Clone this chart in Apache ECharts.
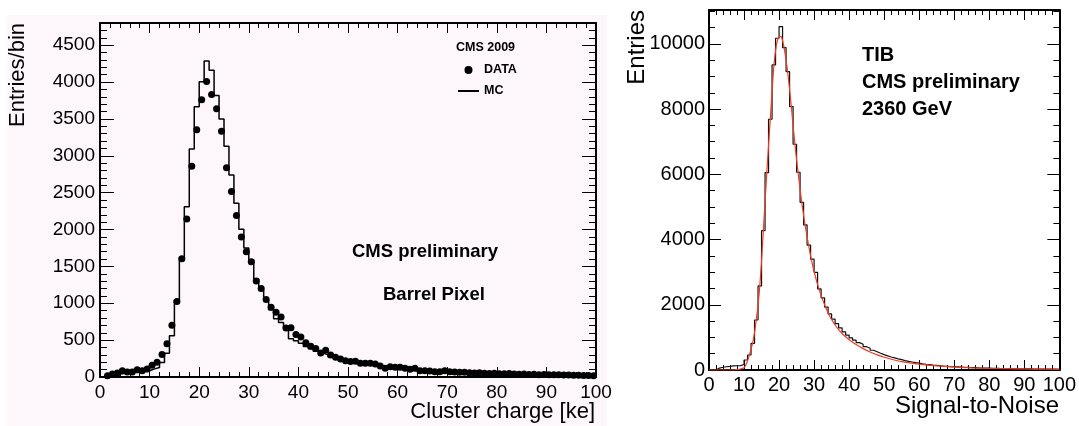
<!DOCTYPE html>
<html>
<head>
<meta charset="utf-8">
<script src="https://cdn.jsdelivr.net/npm/echarts@6.0.0/dist/echarts.min.js"></script>
<style>
  html, body { margin: 0; padding: 0; background: #fff; }
  #chart { width: 1079px; height: 426px; }
</style>
</head>
<body>
<div id="chart"></div>
<script>
  'use strict'

  // ---- left panel : pixel cluster charge, 1 ke bins from 0 to 100 ----
  var pixelData = [null, 18, 41, 54, 86, 68, 68, 99, 86, 109,
    160, 199, 305, 450, 703, 1023, 1605, 2143, 2856, 3354,
    3761, 4008, 3829, 3637, 3331, 2838, 2516, 2190, 1900, 1697,
    1563, 1301, 1200, 1052, 946, 878, 815, 663, 667, 577,
    541, 466, 418, 385, 324, 364, 297, 267, 245, 222,
    210, 213, 186, 186, 186, 176, 149, 118, 140, 131,
    131, 118, 104, 118, 86, 86, 81, 72, 72, 86,
    72, 68, 64, 66, 58, 55, 57, 50, 48, 52,
    45, 43, 46, 40, 38, 41, 35, 36, 32, 34,
    30, 29, 31, 26, 27, 24, 25, 21, 22, 18];

  var pixelMC = [5, 15, 30, 40, 50, 55, 60, 65, 72, 85,
    110, 130, 195, 323, 560, 1040, 1620, 2310, 3090, 3665,
    4005, 4285, 4160, 3818, 3500, 3130, 2738, 2355, 2005, 1750,
    1590, 1330, 1180, 1040, 912, 790, 740, 660, 520, 490,
    458, 415, 382, 350, 324, 300, 272, 250, 234, 214,
    200, 190, 176, 165, 158, 146, 135, 126, 119, 110,
    104, 97, 92, 86, 80, 76, 72, 68, 63, 60,
    57, 54, 51, 49, 46, 44, 42, 40, 38, 36,
    35, 33, 32, 30, 29, 28, 27, 26, 25, 24,
    23, 22, 21, 20, 19, 18, 18, 17, 16, 15];

  // ---- right panel : TIB signal-to-noise, unit bins from 0 to 100 ----
  var tibHist = [0, 0, 60, 85, 100, 110, 125, 130, 135, 170,
    307, 460, 818, 1534, 2577, 4274, 6053, 7689, 9356, 10174,
    10532, 9888, 9151, 8078, 6923, 6064, 5143, 4448, 3830, 3400,
    2995, 2485, 2209, 1930, 1720, 1560, 1420, 1290, 1170, 1070,
    985, 915, 840, 790, 715, 668, 605, 560, 512, 470,
    432, 398, 372, 343, 318, 288, 262, 246, 226, 210,
    192, 176, 163, 150, 141, 130, 121, 114, 106, 100,
    94, 88, 82, 79, 73, 70, 65, 62, 58, 55,
    52, 50, 47, 45, 43, 41, 39, 37, 36, 35,
    33, 32, 31, 30, 29, 27, 26, 25, 24, 22];

  var fitX = [0, 6, 8, 9, 10,
    10.5, 11, 11.5, 12, 12.5, 13, 13.5, 14, 14.5, 15,
    15.5, 16, 16.5, 17, 17.5, 18, 18.5, 19, 19.5, 20,
    20.5, 21, 21.5, 22, 22.5, 23, 23.5, 24, 24.5, 25,
    25.5, 26, 26.5, 27, 27.5, 28, 28.5, 29, 29.5, 30,
    31, 32, 33, 34, 35, 36, 37, 38, 39, 40,
    42, 44, 46, 48, 50,
    55, 60, 65, 70, 75, 80, 85, 90, 95, 100];
  var fitY = [0, 0, 10, 30, 70,
    150, 280, 450, 650, 850, 1150, 1550, 2000, 2580, 3350,
    4250, 5150, 6050, 6900, 7700, 8550, 9300, 9800, 10100, 10220,
    10230, 10100, 9850, 9500, 9100, 8600, 8080, 7500, 6950, 6450,
    6000, 5550, 5120, 4750, 4400, 4080, 3780, 3500, 3250, 3020,
    2620, 2290, 2000, 1750, 1550, 1380, 1240, 1120, 1020, 930,
    780, 655, 550, 465, 390,
    255, 178, 124, 90, 68, 52, 41, 32, 25, 20];

  var FONT = '"Liberation Sans", Arial, Helvetica, sans-serif';

  // histogram as a step line drawn from the bin edges
  function stepData(vals) {
    var d = vals.map(function (v, i) { return [i, v]; });
    d.push([vals.length, vals[vals.length - 1]]);
    return d;
  }
  function binCenters(vals) {
    var d = [];
    vals.forEach(function (v, i) { if (v !== null) d.push([i + 0.5, v]); });
    return d;
  }
  function plain(v) { return String(v); }

  function xAx(gi, pos, labels, fs, margin) {
    return {
      type: 'value', gridIndex: gi, position: pos,
      min: 0, max: 100, interval: 10,
      axisLine: { show: true, onZero: false, lineStyle: { color: '#000', width: 2 } },
      axisTick: { show: true, inside: true, length: 10, lineStyle: { color: '#000', width: 1 } },
      minorTick: { show: true, splitNumber: 5, length: 5, lineStyle: { color: '#000', width: 1 } },
      axisLabel: { show: labels, color: '#000', fontSize: fs, fontFamily: FONT, margin: margin, formatter: plain },
      splitLine: { show: false }, minorSplitLine: { show: false }
    };
  }
  function yAx(gi, pos, labels, max, interval, minorSplit, tickLen, fs, margin) {
    return {
      type: 'value', gridIndex: gi, position: pos,
      min: 0, max: max, interval: interval,
      axisLine: { show: true, onZero: false, lineStyle: { color: '#000', width: 2 } },
      axisTick: { show: true, inside: true, length: tickLen, lineStyle: { color: '#000', width: 1 } },
      minorTick: { show: true, splitNumber: minorSplit, length: tickLen / 2, lineStyle: { color: '#000', width: 1 } },
      axisLabel: { show: labels, showMaxLabel: false, color: '#000', fontSize: fs, fontFamily: FONT, margin: margin, formatter: plain },
      splitLine: { show: false }, minorSplitLine: { show: false }
    };
  }

  var chart = echarts.init(document.getElementById('chart'));

  var option = {
    animation: false,
    grid: [
      { left: 100, top: 23, width: 496, height: 354 },
      { left: 709, top: 10, width: 351, height: 360 }
    ],
    xAxis: [
      xAx(0, 'bottom', true, 19, 6),
      xAx(0, 'top', false, 19, 6),
      xAx(1, 'bottom', true, 20, 5),
      xAx(1, 'top', false, 20, 5)
    ],
    yAxis: [
      yAx(0, 'left', true, 4800, 500, 5, 14, 19, 5),
      yAx(0, 'right', false, 4800, 500, 5, 14, 19, 5),
      yAx(1, 'left', true, 11040, 2000, 4, 12, 20, 4),
      yAx(1, 'right', false, 11040, 2000, 4, 12, 20, 4)
    ],
    legend: {
      orient: 'vertical', left: 457, top: 63, padding: 0,
      itemWidth: 21, itemHeight: 8, itemGap: 7,
      selectedMode: false,
      data: [
        { name: 'DATA', icon: 'circle', itemStyle: { color: '#000', opacity: 1 } },
        { name: 'MC', itemStyle: { opacity: 0 } }
      ],
      textStyle: { color: '#000', fontFamily: FONT, fontWeight: 'bold', fontSize: 12.5, lineHeight: 14 }
    },
    graphic: [
      { type: 'rect', z: -10, silent: true, shape: { x: 7, y: 15, width: 600, height: 411 }, style: { fill: '#fdf6fa' } },
      { type: 'text', x: 18, y: 23, rotation: Math.PI / 2, style: { text: 'Entries/bin', font: '22px ' + FONT, fill: '#000', align: 'right', verticalAlign: 'middle' } },
      { type: 'text', x: 595, y: 412, style: { text: 'Cluster charge [ke]', font: '22px ' + FONT, fill: '#000', align: 'right', verticalAlign: 'middle' } },
      { type: 'text', x: 456, y: 48, style: { text: 'CMS 2009', font: 'bold 12.5px ' + FONT, fill: '#000', align: 'left', verticalAlign: 'middle' } },
      { type: 'text', x: 352, y: 252, style: { text: 'CMS preliminary', font: 'bold 18.5px ' + FONT, fill: '#000', align: 'left', verticalAlign: 'middle' } },
      { type: 'text', x: 383, y: 295, style: { text: 'Barrel Pixel', font: 'bold 18.5px ' + FONT, fill: '#000', align: 'left', verticalAlign: 'middle' } },
      { type: 'text', x: 637, y: 10, rotation: Math.PI / 2, style: { text: 'Entries', font: '24px ' + FONT, fill: '#000', align: 'right', verticalAlign: 'middle' } },
      { type: 'text', x: 1059, y: 406, style: { text: 'Signal-to-Noise', font: '24px ' + FONT, fill: '#000', align: 'right', verticalAlign: 'middle' } },
      { type: 'text', x: 862, y: 55, style: { text: 'TIB', font: 'bold 20px ' + FONT, fill: '#000', align: 'left', verticalAlign: 'middle' } },
      { type: 'text', x: 862, y: 82, style: { text: 'CMS preliminary', font: 'bold 20px ' + FONT, fill: '#000', align: 'left', verticalAlign: 'middle' } },
      { type: 'text', x: 862, y: 109, style: { text: '2360 GeV', font: 'bold 20px ' + FONT, fill: '#000', align: 'left', verticalAlign: 'middle' } }
    ],
    series: [
      {
        name: 'MC', type: 'line', xAxisIndex: 0, yAxisIndex: 0,
        step: 'end', symbol: 'none', showSymbol: false,
        lineStyle: { color: '#000', width: 1.5 }, itemStyle: { color: '#000' },
        data: stepData(pixelMC)
      },
      {
        name: 'DATA', type: 'scatter', xAxisIndex: 0, yAxisIndex: 0,
        symbol: 'circle', symbolSize: 7, itemStyle: { color: '#000', opacity: 1 },
        data: binCenters(pixelData)
      },
      {
        name: 'TIB', type: 'line', xAxisIndex: 2, yAxisIndex: 2,
        step: 'end', symbol: 'none', showSymbol: false,
        lineStyle: { color: '#111', width: 1.2 },
        data: stepData(tibHist)
      },
      {
        name: 'fit', type: 'line', xAxisIndex: 2, yAxisIndex: 2,
        smooth: 0.3, symbol: 'none', showSymbol: false,
        lineStyle: { color: '#ee3b24', width: 1.2 },
        data: fitX.map(function (x, i) { return [x, fitY[i]]; })
      }
    ]
  };

  chart.setOption(option);
</script>
</body>
</html>
